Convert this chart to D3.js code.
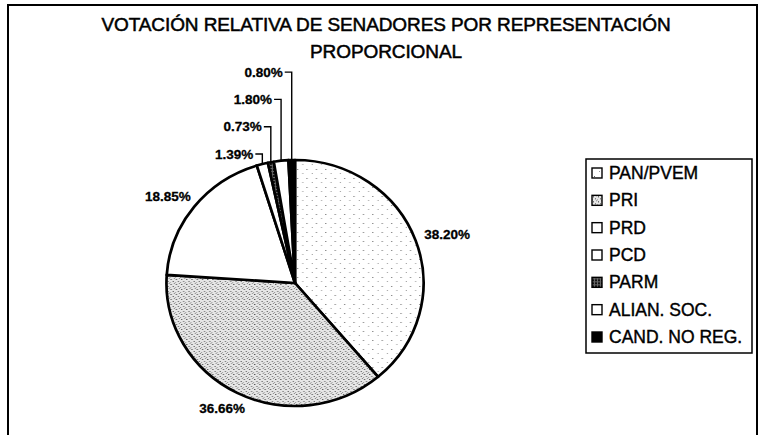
<!DOCTYPE html>
<html lang="es">
<head>
<meta charset="UTF-8">
<title>Votación relativa de senadores</title>
<script src="https://d3js.org/d3.v7.min.js"></script>
<style>
  body { margin: 0; background: #fff; }
  text { font-family: "Liberation Sans", Arial, sans-serif; fill: #000; }
</style>
</head>
<body>
<script>
    // data
    var parties = ["PAN/PVEM", "PRI", "PRD", "PCD", "PARM", "ALIAN. SOC.", "CAND. NO REG."];
    var votes = [38.20, 36.66, 18.85, 1.39, 0.73, 1.80, 0.80];
    var pctLabels = ["38.20%", "36.66%", "18.85%", "1.39%", "0.73%", "1.80%", "0.80%"];
    var fills = ["url(#lightDots)", "url(#denseDots)", "#fff", "#fff", "url(#checker)", "#fff", "#000"];

    var w = 765, h = 435;
    var cx = 295, cy = 283, r = 123, sx = 1.045;

    var svg = d3.select("body").append("svg")
                .attr("width", w).attr("height", h);

    // fill patterns to imitate the printed textures
    var defs = svg.append("defs");
    var p1 = defs.append("pattern").attr("id", "lightDots")
                .attr("patternUnits", "userSpaceOnUse").attr("width", 9).attr("height", 9);
    p1.append("rect").attr("width", 9).attr("height", 9).attr("fill", "#fff");
    p1.append("rect").attr("x", 2).attr("y", 3).attr("width", 1).attr("height", 1).attr("fill", "#666");
    p1.append("rect").attr("x", 7).attr("y", 7).attr("width", 1).attr("height", 1).attr("fill", "#999");

    var p2 = defs.append("pattern").attr("id", "denseDots")
                .attr("patternUnits", "userSpaceOnUse").attr("width", 5).attr("height", 5);
    p2.append("rect").attr("width", 5).attr("height", 5).attr("fill", "#e6e6e6");
    p2.append("rect").attr("x", 1).attr("y", 1).attr("width", 1).attr("height", 1).attr("fill", "#333");
    p2.append("rect").attr("x", 3).attr("y", 3).attr("width", 1).attr("height", 1).attr("fill", "#555");
    p2.append("rect").attr("x", 4).attr("y", 0).attr("width", 1).attr("height", 1).attr("fill", "#888");
    p2.append("rect").attr("x", 0).attr("y", 4).attr("width", 1).attr("height", 1).attr("fill", "#999");

    var p3 = defs.append("pattern").attr("id", "checker")
                .attr("patternUnits", "userSpaceOnUse").attr("width", 3).attr("height", 3);
    p3.append("rect").attr("width", 3).attr("height", 3).attr("fill", "#666");
    p3.append("rect").attr("width", 2).attr("height", 2).attr("fill", "#111");

    var color = d3.scaleOrdinal().domain(parties).range(fills);

    // outer frame (bottom edge is cut off in the scan)
    svg.append("path")
        .attr("d", "M8," + h + "V5H757V" + h)
        .attr("fill", "none").attr("stroke", "#000").attr("stroke-width", 2);

    // title
    var title = svg.append("text").attr("text-anchor", "middle")
                .style("font-size", "19px").style("letter-spacing", "-0.1px")
                .attr("stroke", "#000").attr("stroke-width", 0.5);
    title.append("tspan").attr("x", 386).attr("y", 31).text("VOTACIÓN RELATIVA DE SENADORES POR REPRESENTACIÓN");
    title.append("tspan").attr("x", 386).attr("y", 58).text("PROPORCIONAL");

    // pie
    var data = parties.map((d, i) => ({ party: d, value: votes[i], label: pctLabels[i] }));
    var pie = d3.pie().value(d => d.value).sort(null);
    var arc = d3.arc().innerRadius(0).outerRadius(r);
    var arcs = pie(data);

    var g = svg.append("g").attr("transform", "translate(" + cx + "," + cy + ") scale(" + sx + ",1)");
    g.selectAll("path")
        .data(arcs)
        .join("path")
        .attr("d", arc)
        .attr("fill", d => color(d.data.party))
        .attr("stroke", "#000")
        .attr("stroke-width", 2.6)
        .attr("stroke-linejoin", "round");

    // labels
    var lab = svg.append("g")
                .style("font-size", "13.5px").style("font-weight", "bold")
                .attr("stroke", "#000").attr("stroke-width", 0.3);
    var small = 0;
    arcs.forEach(function(a) {
        var mid = (a.startAngle + a.endAngle) / 2;
        var s = Math.sin(mid), c = Math.cos(mid);
        if (a.data.value >= 5) {
            var px = cx + sx * (r + 10) * s, py = cy - (r + 10) * c;
            lab.append("text")
                .attr("x", px + s * 23).attr("y", py - c * 7)
                .attr("text-anchor", "middle").attr("dominant-baseline", "central")
                .text(a.data.label);
        } else {
            var ex = cx + sx * r * s, ey = cy - r * c;
            var ly = cy - r - 6 - small * 27.3;
            lab.append("text")
                .attr("x", ex - 9).attr("y", ly)
                .attr("text-anchor", "end").attr("dominant-baseline", "central")
                .text(a.data.label);
            lab.append("path")
                .attr("d", "M" + (ex - 7) + "," + ly + "H" + ex + "V" + ey)
                .attr("fill", "none").attr("stroke", "#000").attr("stroke-width", 1.4);
            small++;
        }
    });

    // legend
    var lg = svg.append("g");
    lg.append("rect")
        .attr("x", 586).attr("y", 159).attr("width", 166).attr("height", 194)
        .attr("fill", "#fff").attr("stroke", "#000").attr("stroke-width", 1.5);
    var ly = d3.scalePoint().domain(parties).range([173, 337]);
    var items = lg.selectAll("g.item").data(parties).join("g").attr("class", "item")
        .attr("transform", d => "translate(592," + ly(d) + ")");
    items.append("rect")
        .attr("x", 0).attr("y", -5).attr("width", 10).attr("height", 10)
        .attr("fill", d => color(d)).attr("stroke", "#000").attr("stroke-width", 1.4);
    items.append("text")
        .attr("x", 17).attr("y", 0).attr("dominant-baseline", "central")
        .style("font-size", "17.5px")
        .attr("stroke", "#000").attr("stroke-width", 0.4)
        .text(d => d);
</script>
</body>
</html>
